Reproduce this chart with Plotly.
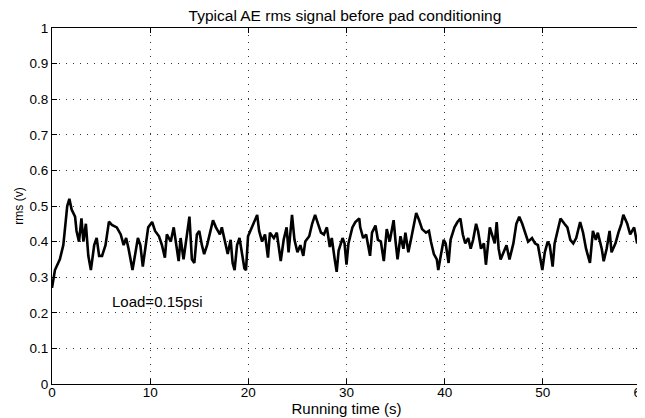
import plotly.graph_objects as go

time_s = [0, 0.3, 0.8, 1.15, 1.3, 1.55, 1.77, 2.0, 2.35, 2.5, 2.75, 3.0, 3.2, 3.45, 3.7, 3.96,
          4.3, 4.55, 4.8, 5.1, 5.45, 5.8, 6.1, 6.6, 7.0, 7.3, 7.55, 7.8, 8.2, 8.5, 8.75, 9.0,
          9.25, 9.5, 9.8, 10.2, 10.5, 10.9, 11.2, 11.5, 11.7, 12.1, 12.4, 12.9, 13.1, 13.4,
          13.7, 14.0, 14.25, 14.5, 14.76, 15.0, 15.27, 15.5, 15.8, 16.1, 16.4, 16.7, 17.1,
          17.3, 17.65, 17.9, 18.2, 18.4, 18.6, 18.85, 19.1, 19.35, 19.6, 19.76, 19.97, 20.2,
          20.5, 20.9, 21.1, 21.4, 21.7, 22.0, 22.2, 22.6, 22.9, 23.3, 23.6, 23.9, 24.1, 24.45,
          24.7, 25.0, 25.3, 25.6, 25.8, 26.2, 26.5, 26.8, 27.1, 27.4, 27.7, 28.0, 28.3, 28.5,
          28.8, 29.0, 29.2, 29.6, 29.8, 30.0, 30.2, 30.6, 30.9, 31.3, 31.4, 31.7, 32.0, 32.4,
          32.6, 32.95, 33.2, 33.5, 33.8, 34.1, 34.4, 34.8, 35.0, 35.2, 35.5, 35.8, 36.0, 36.3,
          36.6, 36.9, 37.1, 37.4, 37.7, 38.1, 38.4, 38.6, 38.9, 39.2, 39.35, 39.6, 39.9, 40.1,
          40.4, 40.6, 41.0, 41.3, 41.6, 41.85, 42.1, 42.4, 42.65, 42.9, 43.2, 43.4, 43.7, 44.0,
          44.2, 44.6, 44.8, 45.1, 45.3, 45.5, 45.7, 46.1, 46.3, 46.6, 47.0, 47.3, 47.6, 47.9,
          48.3, 48.5, 48.9, 49.2, 49.5, 49.8, 49.95, 50.2, 50.5, 50.7, 51.0, 51.2, 51.6, 51.8,
          52.2, 52.5, 52.8, 53.1, 53.4, 53.8, 54.1, 54.4, 54.8, 55.1, 55.4, 55.6, 56.0, 56.2,
          56.5, 56.8, 57.0, 57.4, 57.7, 58.0, 58.2, 58.6, 58.9, 59.3, 59.6, 59.8, 60.0]

rms_v = [0.27, 0.32, 0.35, 0.39, 0.43, 0.50, 0.52, 0.49, 0.47, 0.43, 0.40, 0.465, 0.40, 0.45,
         0.36, 0.32, 0.39, 0.41, 0.36, 0.36, 0.39, 0.456, 0.447, 0.44, 0.42, 0.39, 0.41, 0.38,
         0.32, 0.37, 0.41, 0.39, 0.33, 0.38, 0.44, 0.455, 0.43, 0.415, 0.39, 0.355, 0.42, 0.40,
         0.44, 0.345, 0.41, 0.35, 0.415, 0.47, 0.35, 0.34, 0.42, 0.43, 0.39, 0.365, 0.39,
         0.43, 0.46, 0.44, 0.42, 0.44, 0.39, 0.365, 0.405, 0.34, 0.32, 0.39, 0.41, 0.37, 0.325,
         0.32, 0.415, 0.43, 0.45, 0.475, 0.43, 0.40, 0.42, 0.355, 0.425, 0.41, 0.425, 0.345,
         0.405, 0.44, 0.37, 0.475, 0.405, 0.37, 0.39, 0.36, 0.40, 0.415, 0.45, 0.475, 0.45,
         0.425, 0.42, 0.44, 0.385, 0.41, 0.35, 0.315, 0.375, 0.41, 0.395, 0.335, 0.395, 0.44,
         0.455, 0.465, 0.44, 0.41, 0.42, 0.36, 0.425, 0.445, 0.405, 0.40, 0.345, 0.435, 0.40,
         0.46, 0.40, 0.35, 0.415, 0.38, 0.425, 0.37, 0.41, 0.45, 0.48, 0.46, 0.435, 0.425,
         0.43, 0.40, 0.365, 0.35, 0.32, 0.36, 0.405, 0.395, 0.34, 0.405, 0.44, 0.455, 0.465,
         0.42, 0.395, 0.41, 0.38, 0.405, 0.45, 0.43, 0.38, 0.395, 0.335, 0.44, 0.42, 0.395,
         0.455, 0.38, 0.35, 0.375, 0.39, 0.35, 0.395, 0.45, 0.47, 0.45, 0.42, 0.40, 0.41,
         0.395, 0.39, 0.345, 0.32, 0.37, 0.40, 0.39, 0.33, 0.395, 0.44, 0.465, 0.45, 0.44,
         0.405, 0.395, 0.41, 0.455, 0.425, 0.38, 0.34, 0.43, 0.405, 0.425, 0.38, 0.345, 0.38,
         0.43, 0.37, 0.395, 0.425, 0.45, 0.475, 0.45, 0.42, 0.44, 0.395, 0.41, 0.39]

x_ticks = [0, 10, 20, 30, 40, 50, 60]
y_ticks = [0, 0.1, 0.2, 0.3, 0.4, 0.5, 0.6, 0.7, 0.8, 0.9, 1]
y_tick_text = ["0", "0.1", "0.2", "0.3", "0.4", "0.5", "0.6", "0.7", "0.8", "0.9", "1"]

font_family = "Liberation Sans, Arial, sans-serif"

fig = go.Figure()
fig.add_trace(go.Scatter(x=time_s, y=rms_v, mode="lines",
                         line=dict(color="black", width=2.6), showlegend=False))

fig.add_annotation(x=5.95, y=0.232, text="Load=0.15psi", showarrow=False,
                   xanchor="left", yanchor="middle",
                   font=dict(family=font_family, size=15, color="black"))

axis_common = dict(showline=True, linecolor="black", linewidth=1, mirror="allticks",
                   ticks="inside", ticklen=5, tickcolor="black",
                   showgrid=True, gridcolor="#333333", griddash="1px,6px", gridwidth=1,
                   zeroline=False, automargin=False, ticklabeloverflow="allow",
                   tickfont=dict(family=font_family, size=13.5, color="black"))

fig.update_xaxes(range=[0, 60], tickvals=x_ticks, ticklabelstandoff=-4,
                 title=dict(text="Running time (s)",
                            font=dict(family=font_family, size=15, color="black"), standoff=0),
                 **axis_common)
fig.update_yaxes(range=[0, 1], tickvals=y_ticks, ticktext=y_tick_text,
                 title=dict(text="rms (v)", font=dict(family=font_family, size=12, color="black"),
                            standoff=3),
                 **axis_common)

fig.update_layout(
    width=637, height=410,
    margin=dict(l=44, r=4, t=20, b=34),
    paper_bgcolor="white", plot_bgcolor="white",
    title=dict(text="Typical AE rms signal before pad conditioning",
               font=dict(family=font_family, size=15.5, color="black"),
               x=0.529, xanchor="center", y=0.982, yanchor="middle", pad=dict(t=0)),
)

fig.write_html("out.html")
